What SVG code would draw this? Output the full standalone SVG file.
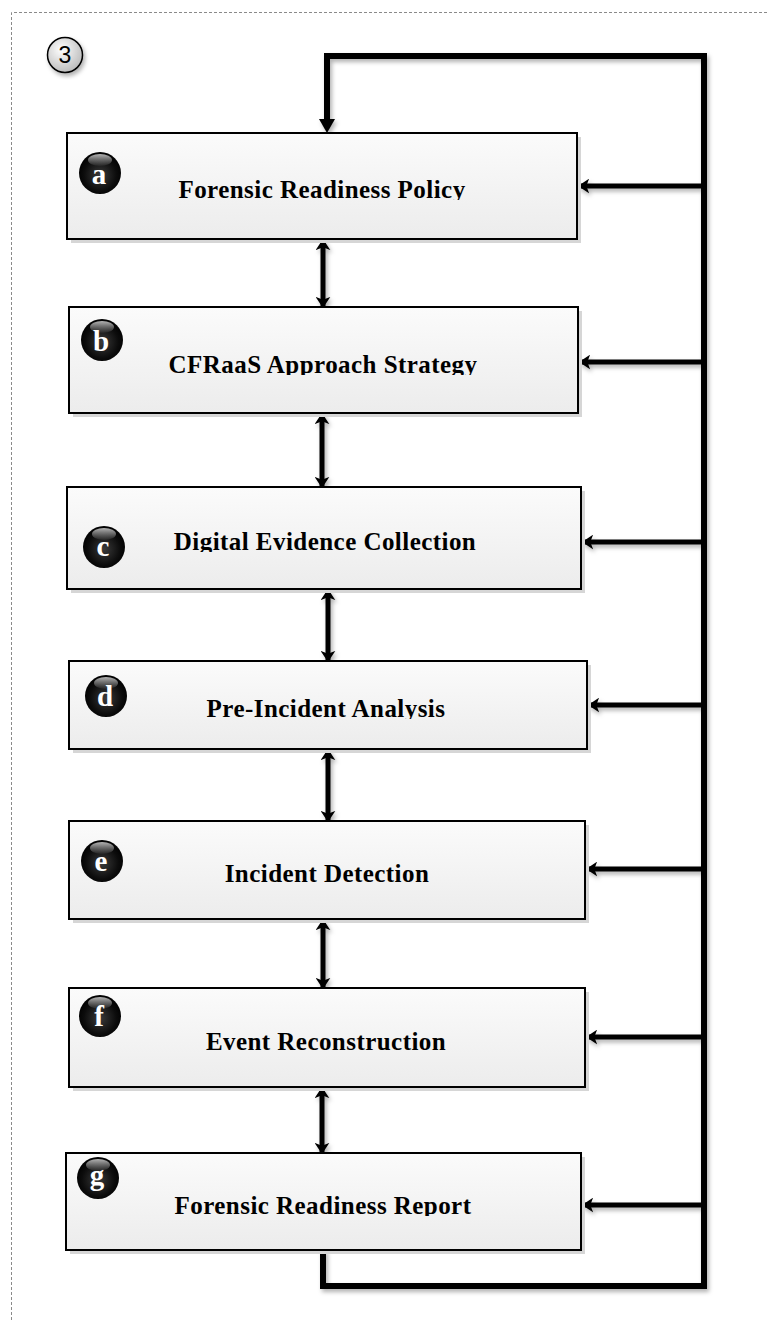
<svg xmlns="http://www.w3.org/2000/svg" width="767" height="1320" viewBox="0 0 767 1320">
  <defs>
    <style>
      .box { fill: url(#boxFill); stroke: #000; stroke-width: 2; }
      .boxShadow { fill: #d6d6d6; }
      .label { font-family: "Liberation Serif", "Times New Roman", serif; font-weight: bold; font-size: 25px; letter-spacing: 0.45px; fill: #000; text-anchor: middle; }
      .badgeText { font-family: "Liberation Serif", "Times New Roman", serif; font-weight: bold; font-size: 29px; fill: #fff; text-anchor: middle; }
      .link { fill: none; stroke: #000; stroke-width: 5; }
      .loop { fill: none; stroke: #000; stroke-width: 6; stroke-linejoin: miter; }
    </style>
    <linearGradient id="boxFill" x1="0" y1="0" x2="0" y2="1">
      <stop offset="0" stop-color="#fbfbfb"/>
      <stop offset="1" stop-color="#ececec"/>
    </linearGradient>
    <radialGradient id="ballFill" cx="0.5" cy="0.55" r="0.55">
      <stop offset="0" stop-color="#3a3a3a"/>
      <stop offset="0.7" stop-color="#0c0c0c"/>
      <stop offset="1" stop-color="#000"/>
    </radialGradient>
    <linearGradient id="ballShine" x1="0" y1="0" x2="0" y2="1">
      <stop offset="0" stop-color="#fff" stop-opacity="0.7"/>
      <stop offset="1" stop-color="#fff" stop-opacity="0.03"/>
    </linearGradient>
    <radialGradient id="stepFill" cx="0.4" cy="0.35" r="0.7">
      <stop offset="0" stop-color="#ffffff"/>
      <stop offset="1" stop-color="#b8b8b8"/>
    </radialGradient>
    <filter id="softShadow" x="-20%" y="-20%" width="140%" height="140%">
      <feDropShadow dx="2" dy="3" stdDeviation="2" flood-color="#000" flood-opacity="0.3"/>
    </filter>
    <marker id="headEnd" markerUnits="userSpaceOnUse" viewBox="0 0 12 16" markerWidth="11" markerHeight="15" refX="11" refY="8" orient="auto">
      <path d="M0,0 L12,8 L0,16 L3,8 z" fill="#000"/>
    </marker>
    <marker id="headStart" markerUnits="userSpaceOnUse" viewBox="0 0 12 16" markerWidth="11" markerHeight="15" refX="1" refY="8" orient="auto">
      <path d="M12,0 L0,8 L12,16 L9,8 z" fill="#000"/>
    </marker>
    <clipPath id="clipA"><rect x="60" y="130" width="530" height="70"/></clipPath>
    <clipPath id="clipB"><rect x="60" y="300" width="530" height="75"/></clipPath>
    <clipPath id="clipC"><rect x="60" y="480" width="530" height="72"/></clipPath>
    <clipPath id="clipD"><rect x="60" y="655" width="530" height="64"/></clipPath>
    <clipPath id="clipE"><rect x="60" y="815" width="530" height="69"/></clipPath>
    <clipPath id="clipF"><rect x="60" y="980" width="530" height="72"/></clipPath>
    <clipPath id="clipG"><rect x="60" y="1145" width="530" height="71"/></clipPath>
  </defs>

  <rect width="767" height="1320" fill="#fff"/>

  <!-- dotted frame (top and left edges) -->
  <path d="M11.5,1320 V12.5 H767" fill="none" stroke="#8a8a8a" stroke-width="1" stroke-dasharray="3 2"/>

  <!-- step number -->
  <g id="step-3">
    <circle cx="65" cy="55" r="17.5" fill="url(#stepFill)" stroke="#000" stroke-width="1.5" filter="url(#softShadow)"/>
    <text x="65" y="63" font-family="Liberation Sans, Arial, sans-serif" font-size="23" text-anchor="middle" fill="#000">3</text>
  </g>

  <!-- connectors -->
  <g id="connectors" filter="url(#softShadow)">
    <!-- feedback loop from the report back to the policy -->
    <path class="loop" d="M323,1250 V1286 H704 V56 H327 V120"/>
    <path d="M319,119 L327,133 L335,119 z" fill="#000"/>
    <!-- feedback branches into every stage -->
    <line class="link" x1="706" y1="186" x2="579" y2="186" marker-end="url(#headEnd)"/>
    <line class="link" x1="706" y1="362" x2="580" y2="362" marker-end="url(#headEnd)"/>
    <line class="link" x1="706" y1="542" x2="583" y2="542" marker-end="url(#headEnd)"/>
    <line class="link" x1="706" y1="705" x2="589" y2="705" marker-end="url(#headEnd)"/>
    <line class="link" x1="706" y1="869" x2="587" y2="869" marker-end="url(#headEnd)"/>
    <line class="link" x1="706" y1="1037" x2="587" y2="1037" marker-end="url(#headEnd)"/>
    <line class="link" x1="706" y1="1205" x2="583" y2="1205" marker-end="url(#headEnd)"/>
    <!-- two-way links between consecutive stages -->
    <line class="link" x1="323" y1="240" x2="323" y2="307" marker-start="url(#headStart)" marker-end="url(#headEnd)"/>
    <line class="link" x1="322" y1="414" x2="322" y2="487" marker-start="url(#headStart)" marker-end="url(#headEnd)"/>
    <line class="link" x1="328" y1="590" x2="328" y2="661" marker-start="url(#headStart)" marker-end="url(#headEnd)"/>
    <line class="link" x1="328" y1="750" x2="328" y2="821" marker-start="url(#headStart)" marker-end="url(#headEnd)"/>
    <line class="link" x1="323" y1="920" x2="323" y2="988" marker-start="url(#headStart)" marker-end="url(#headEnd)"/>
    <line class="link" x1="322" y1="1088" x2="322" y2="1153" marker-start="url(#headStart)" marker-end="url(#headEnd)"/>
  </g>

  <!-- a -->
  <g id="node-a">
    <rect class="boxShadow" x="71" y="137" width="510" height="106"/>
    <rect class="box" x="67" y="133" width="510" height="106"/>
    <circle cx="100" cy="173" r="21" fill="url(#ballFill)"/>
    <ellipse cx="100" cy="160" rx="12" ry="6" fill="url(#ballShine)"/>
    <text class="badgeText" x="99" y="184">a</text>
    <text class="label" x="322" y="198" clip-path="url(#clipA)">Forensic Readiness Policy</text>
  </g>

  <!-- b -->
  <g id="node-b">
    <rect class="boxShadow" x="73" y="311" width="509" height="106"/>
    <rect class="box" x="69" y="307" width="509" height="106"/>
    <circle cx="102" cy="340" r="21" fill="url(#ballFill)"/>
    <ellipse cx="102" cy="327" rx="12" ry="6" fill="url(#ballShine)"/>
    <text class="badgeText" x="101" y="351">b</text>
    <text class="label" x="323" y="373" clip-path="url(#clipB)">CFRaaS Approach Strategy</text>
  </g>

  <!-- c -->
  <g id="node-c">
    <rect class="boxShadow" x="71" y="491" width="514" height="102"/>
    <rect class="box" x="67" y="487" width="514" height="102"/>
    <circle cx="104" cy="547" r="21" fill="url(#ballFill)"/>
    <ellipse cx="104" cy="534" rx="12" ry="6" fill="url(#ballShine)"/>
    <text class="badgeText" x="103" y="556">c</text>
    <text class="label" x="325" y="550" clip-path="url(#clipC)">Digital Evidence Collection</text>
  </g>

  <!-- d -->
  <g id="node-d">
    <rect class="boxShadow" x="73" y="665" width="518" height="88"/>
    <rect class="box" x="69" y="661" width="518" height="88"/>
    <circle cx="106" cy="696" r="21" fill="url(#ballFill)"/>
    <ellipse cx="106" cy="683" rx="12" ry="6" fill="url(#ballShine)"/>
    <text class="badgeText" x="105" y="706">d</text>
    <text class="label" x="326" y="717" clip-path="url(#clipD)">Pre-Incident Analysis</text>
  </g>

  <!-- e -->
  <g id="node-e">
    <rect class="boxShadow" x="73" y="825" width="516" height="98"/>
    <rect class="box" x="69" y="821" width="516" height="98"/>
    <circle cx="102" cy="861" r="21" fill="url(#ballFill)"/>
    <ellipse cx="102" cy="848" rx="12" ry="6" fill="url(#ballShine)"/>
    <text class="badgeText" x="101" y="871">e</text>
    <text class="label" x="327" y="882" clip-path="url(#clipE)">Incident Detection</text>
  </g>

  <!-- f -->
  <g id="node-f">
    <rect class="boxShadow" x="73" y="992" width="516" height="99"/>
    <rect class="box" x="69" y="988" width="516" height="99"/>
    <circle cx="100" cy="1016" r="21" fill="url(#ballFill)"/>
    <ellipse cx="100" cy="1003" rx="12" ry="6" fill="url(#ballShine)"/>
    <text class="badgeText" x="99" y="1026">f</text>
    <text class="label" x="326" y="1050" clip-path="url(#clipF)">Event Reconstruction</text>
  </g>

  <!-- g -->
  <g id="node-g">
    <rect class="boxShadow" x="70" y="1157" width="515" height="97"/>
    <rect class="box" x="66" y="1153" width="515" height="97"/>
    <circle cx="98" cy="1178" r="21" fill="url(#ballFill)"/>
    <ellipse cx="98" cy="1165" rx="12" ry="6" fill="url(#ballShine)"/>
    <text class="badgeText" x="97" y="1185">g</text>
    <text class="label" x="323" y="1214" clip-path="url(#clipG)">Forensic Readiness Report</text>
  </g>
</svg>
